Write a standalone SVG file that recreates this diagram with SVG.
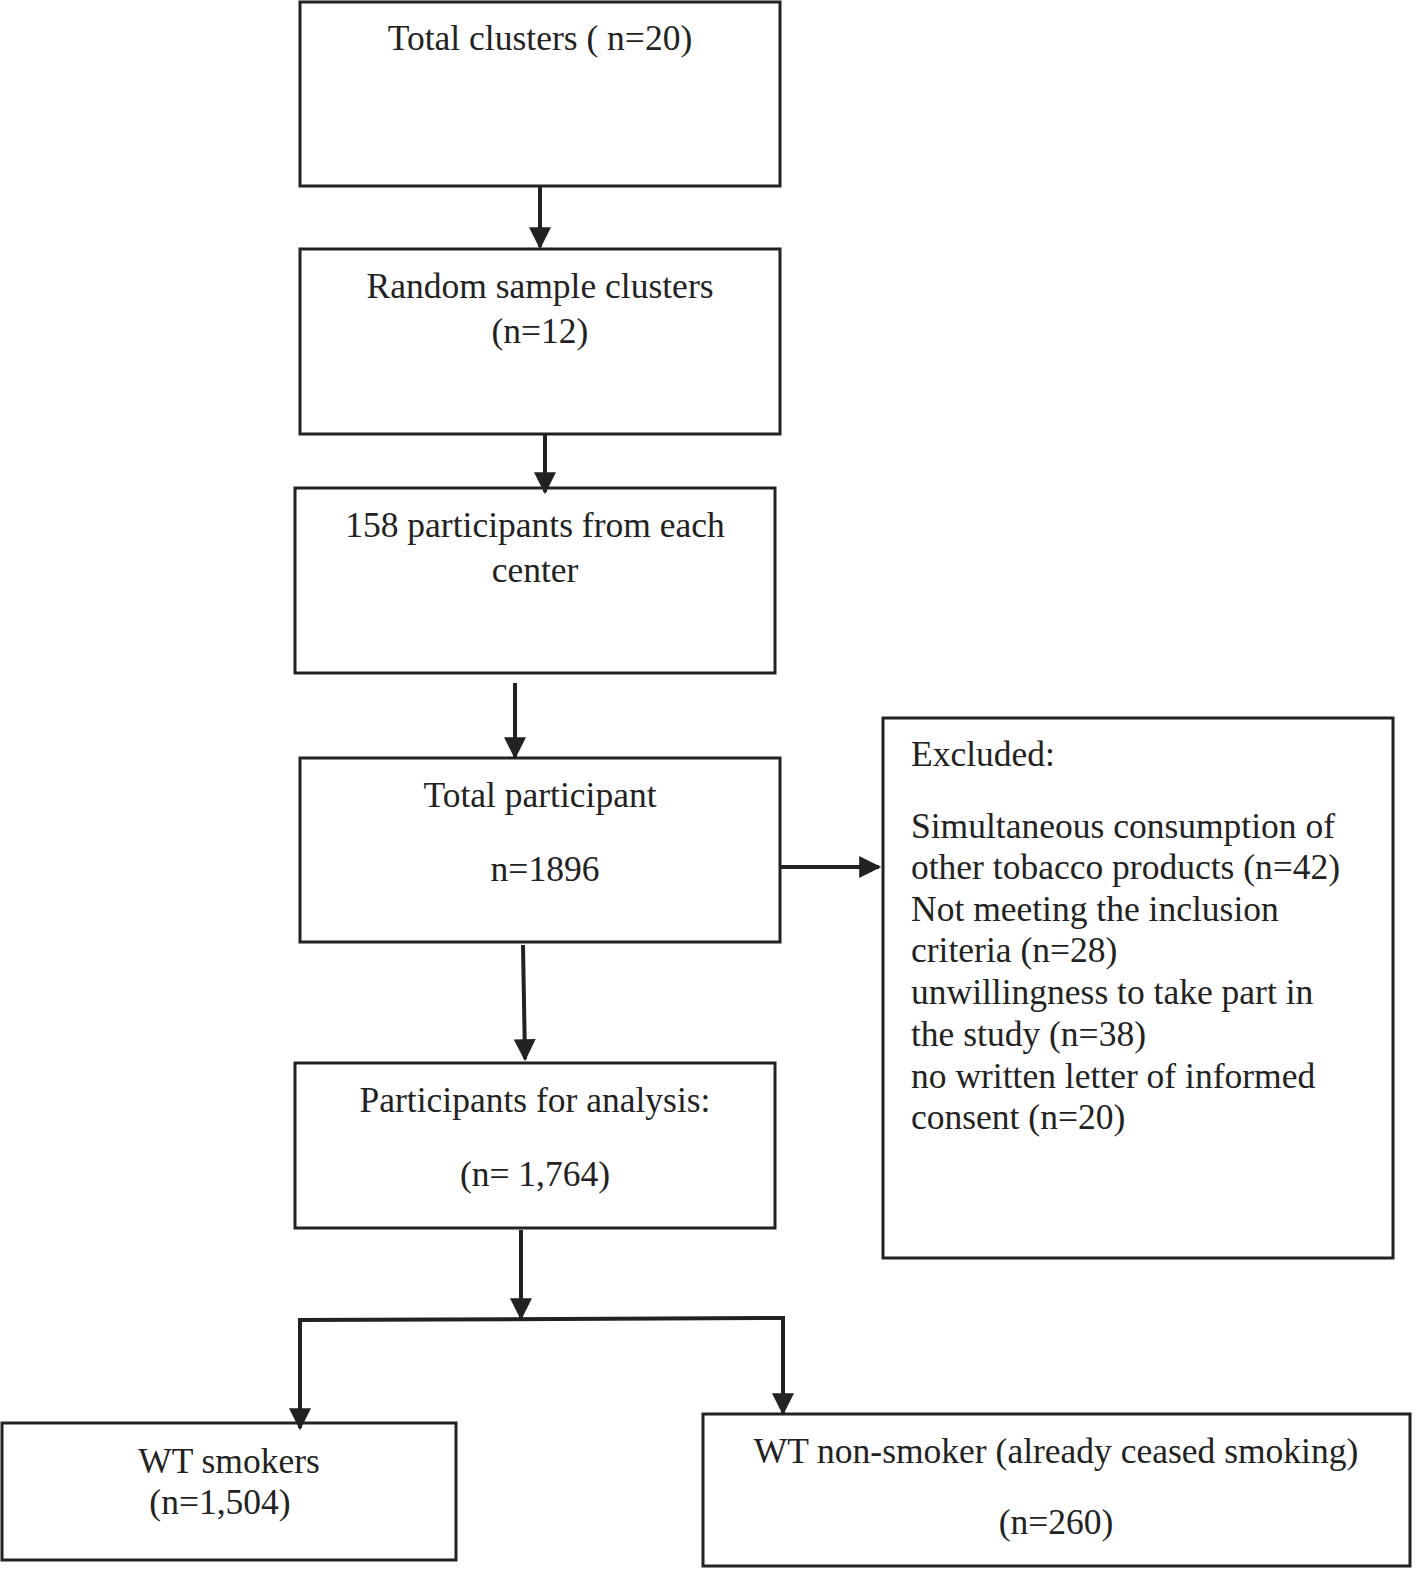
<svg xmlns="http://www.w3.org/2000/svg" width="1417" height="1576" viewBox="0 0 1417 1576">
<style>
.b{fill:#fff;stroke:#222;stroke-width:3}
text{font-family:"Liberation Serif",serif;font-size:35.5px;fill:#222}
.c{text-anchor:middle}
.l{stroke:#222;stroke-width:4;fill:none}
</style>
<defs>
<marker id="m" viewBox="0 0 10 10" refX="9" refY="5" markerWidth="24" markerHeight="22" markerUnits="userSpaceOnUse" orient="auto"><path d="M0,0L10,5L0,10z" fill="#222"/></marker></defs>
<rect width="1417" height="1576" fill="#fff"/>
<g id="n1"><rect class="b" x="300" y="2" width="480" height="184"/><text class="c" x="540" y="50">Total clusters ( n=20)</text></g>
<g id="n2"><rect class="b" x="300" y="249" width="480" height="185"/><text class="c" x="540" y="298">Random sample clusters</text><text class="c" x="540" y="343">(n=12)</text></g>
<g id="n3"><rect class="b" x="295" y="488" width="480" height="185"/><text class="c" x="535" y="537">158 participants from each</text><text class="c" x="535" y="582">center</text></g>
<g id="n4"><rect class="b" x="300" y="758" width="480" height="184"/><text class="c" x="540" y="807">Total participant</text><text class="c" x="545" y="881">n=1896</text></g>
<g id="n5"><rect class="b" x="295" y="1063" width="480" height="165"/><text class="c" x="535" y="1112">Participants for analysis:</text><text class="c" x="535" y="1186">(n= 1,764)</text></g>
<g id="n6"><rect class="b" x="883" y="718" width="510" height="540"/>
<text x="911" y="766">Excluded:</text>
<text x="911" y="838">Simultaneous consumption of</text>
<text x="911" y="879">other tobacco products (n=42)</text>
<text x="911" y="921">Not meeting the inclusion</text>
<text x="911" y="962">criteria (n=28)</text>
<text x="911" y="1004">unwillingness to take part in</text>
<text x="911" y="1046">the study (n=38)</text>
<text x="911" y="1088">no written letter of informed</text>
<text x="911" y="1129">consent (n=20)</text></g>
<g id="n7"><rect class="b" x="2" y="1423" width="454" height="137"/><text class="c" x="229" y="1473">WT smokers</text><text class="c" x="220" y="1514">(n=1,504)</text></g>
<g id="n8"><rect class="b" x="703" y="1414" width="707" height="152"/><text class="c" x="1056" y="1463">WT non-smoker (already ceased smoking)</text><text class="c" x="1056" y="1534">(n=260)</text></g>
<g id="connectors">
<line class="l" x1="540" y1="186" x2="540" y2="247" marker-end="url(#m)"/>
<line class="l" x1="545" y1="434" x2="545" y2="492" marker-end="url(#m)"/>
<line class="l" x1="515" y1="683" x2="515" y2="757" marker-end="url(#m)"/>
<line class="l" x1="523" y1="945" x2="525" y2="1059" marker-end="url(#m)"/>
<line class="l" x1="781" y1="867" x2="879" y2="867" marker-end="url(#m)"/>
<line class="l" x1="521" y1="1230" x2="521" y2="1318" marker-end="url(#m)"/>
<polyline class="l" points="300,1428 300,1320 783,1318 783,1413"/>
<line class="l" x1="300" y1="1380" x2="300" y2="1428" marker-end="url(#m)"/>
<line class="l" x1="783" y1="1370" x2="783" y2="1413" marker-end="url(#m)"/>
</g>
</svg>
